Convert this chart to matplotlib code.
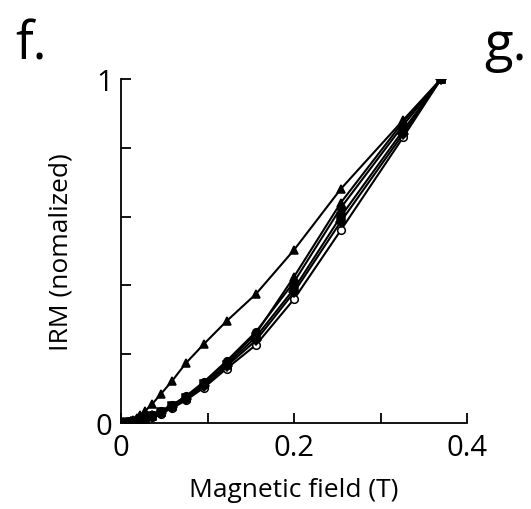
import matplotlib
matplotlib.use('Agg')
import matplotlib.pyplot as plt
import numpy as np

plt.rcParams['font.family'] = ['Open Sans', 'DejaVu Sans']

# Applied field (T)
field = [0.0, 0.002, 0.004, 0.006, 0.008, 0.011, 0.014, 0.018, 0.022, 0.028,
         0.036, 0.046, 0.059, 0.075, 0.096, 0.122, 0.156, 0.200, 0.254, 0.326, 0.370]

# Normalized IRM acquisition curves (one per sample)
irm_tri = [0.0, 0.0005, 0.001, 0.002, 0.003, 0.005, 0.009, 0.014, 0.022, 0.035,
           0.055, 0.084, 0.122, 0.174, 0.230, 0.296, 0.375, 0.503, 0.680, 0.880, 1.0]
irm_open = [0.0, 0.0, 0.0, 0.0005, 0.001, 0.002, 0.003, 0.005, 0.007, 0.011,
            0.017, 0.027, 0.043, 0.066, 0.103, 0.158, 0.227, 0.360, 0.560, 0.830, 1.0]
irm_sq = [0.0, 0.0, 0.0, 0.0005, 0.001, 0.002, 0.003, 0.005, 0.008, 0.013,
          0.020, 0.031, 0.048, 0.072, 0.112, 0.170, 0.250, 0.390, 0.600, 0.850, 1.0]
irm_circ = [0.0, 0.0, 0.0005, 0.001, 0.0015, 0.0025, 0.004, 0.006, 0.009, 0.014,
            0.022, 0.034, 0.052, 0.078, 0.120, 0.180, 0.265, 0.410, 0.625, 0.865, 1.0]
irm_dia = [0.0, 0.0, 0.0, 0.0005, 0.001, 0.002, 0.003, 0.005, 0.008, 0.012,
           0.019, 0.029, 0.046, 0.070, 0.108, 0.165, 0.240, 0.380, 0.585, 0.840, 1.0]
irm_tri2 = [0.0, 0.0, 0.0005, 0.001, 0.0015, 0.0025, 0.004, 0.006, 0.009, 0.013,
            0.021, 0.033, 0.050, 0.075, 0.116, 0.176, 0.260, 0.425, 0.640, 0.875, 1.0]

fig = plt.figure(figsize=(5.31, 5.10), dpi=100)
ax = fig.add_axes([121 / 531, 86 / 510, 346 / 531, 344 / 510])

series = [
    (irm_tri, '^', 'k'),
    (irm_open, 'o', 'white'),
    (irm_sq, 's', 'k'),
    (irm_circ, 'o', 'k'),
    (irm_dia, 'D', 'k'),
    (irm_tri2, '^', 'k'),
]
for vals, mk, fc in series:
    ax.plot(field, vals, color='k', linewidth=1.5, marker=mk, markersize=5.5,
            markerfacecolor=fc, markeredgecolor='k', markeredgewidth=1.1)

ax.set_xlim(0, 0.4)
ax.set_ylim(0, 1)
ax.set_xticks([0, 0.1, 0.2, 0.3, 0.4])
ax.set_xticklabels(['0', '', '0.2', '', '0.4'])
ax.set_yticks([0, 0.2, 0.4, 0.6, 0.8, 1.0])
ax.set_yticklabels(['0', '', '', '', '', '1'])

for s in ['top', 'right']:
    ax.spines[s].set_visible(False)
for s in ['left', 'bottom']:
    ax.spines[s].set_linewidth(1.3)

ax.tick_params(direction='in', length=7, width=1.3, labelsize=21)
ax.tick_params(axis='x', pad=7)
ax.tick_params(axis='y', pad=6)
ax.set_xlabel('Magnetic field (T)', fontsize=19, labelpad=11)
ax.set_ylabel('IRM (nomalized)', fontsize=19, labelpad=16)

fig.text(15 / 531, 1 - 60 / 510, 'f.', fontsize=38)
fig.text(484 / 531, 1 - 60 / 510, 'g.', fontsize=38)

fig.savefig('out.png', dpi=100)
